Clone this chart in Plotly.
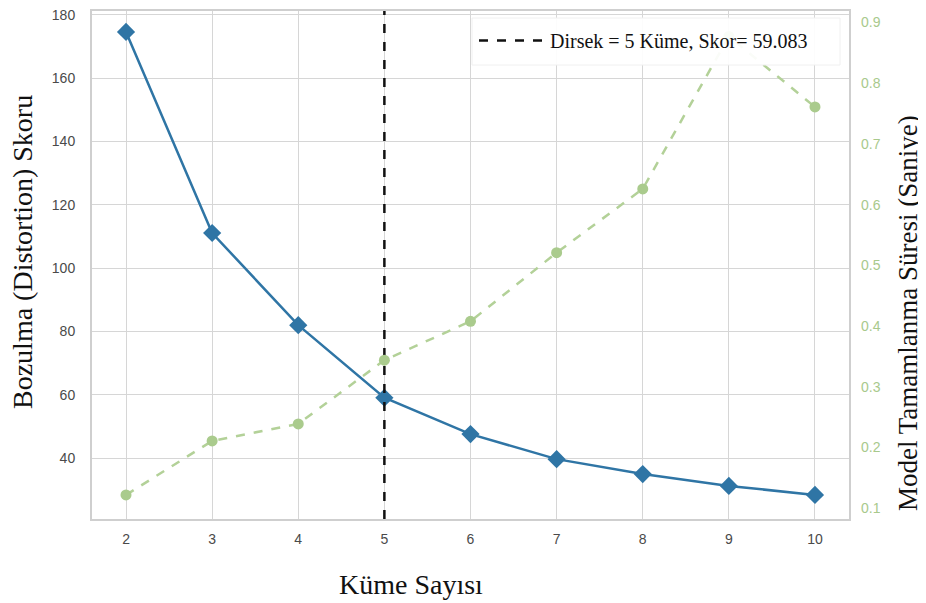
import plotly.graph_objects as go

k_values = [2, 3, 4, 5, 6, 7, 8, 9, 10]
distortion = [174.6, 111.1, 82.0, 59.083, 47.6, 39.7, 35.0, 31.25, 28.4]
fit_time = [0.122, 0.211, 0.239, 0.344, 0.408, 0.521, 0.626, 0.877, 0.761]
elbow_k = 5
elbow_score = 59.083
legend_label = "Dirsek = 5 Küme, Skor= 59.083"
x_title = "Küme Sayısı"
y_title = "Bozulma (Distortion) Skoru"
y2_title = "Model Tamamlanma Süresi (Saniye)"
y_range = [20.8, 181.2]
y2_range = [0.0824, 0.919]

blue = "#2f75a5"
green = "#b3d198"

# page body has an 8px margin: figure coordinates = screen - 8
W, H = 918, 595
L, R, T, B = 84, 841, 3, 511
pw, ph = R - L, B - T


def px(x):
    return (x - 8 - L) / pw


def py(y):
    return (B - (y - 8)) / ph


fig = go.Figure()
fig.add_trace(go.Scatter(
    x=k_values, y=fit_time, yaxis="y2", mode="lines+markers",
    line=dict(color=green, width=2.5, dash="dash"),
    marker=dict(symbol="circle", size=11, color="#aacb8d"),
    showlegend=False))
fig.add_trace(go.Scatter(
    x=k_values, y=distortion, mode="lines+markers",
    line=dict(color=blue, width=2.5),
    marker=dict(symbol="diamond", size=14, color=blue),
    showlegend=False))
fig.add_trace(go.Scatter(
    x=[elbow_k, elbow_k], y=y_range, mode="lines",
    line=dict(color="#111111", width=2.5, dash="dash"),
    name=legend_label, showlegend=True))

# legend box
fig.add_shape(type="rect", xref="paper", yref="paper",
              x0=px(472), x1=px(840), y0=py(65), y1=py(18),
              fillcolor="rgba(255,255,255,0.93)", line=dict(color="#f0f0f0", width=1),
              layer="above")

serif = "Liberation Serif"
tick_font = dict(family="Liberation Sans", size=14, color="#4a4a4a")
fig.update_layout(
    width=W, height=H,
    margin=dict(l=L, r=W - R, t=T, b=H - B, autoexpand=False),
    paper_bgcolor="white", plot_bgcolor="white",
    xaxis=dict(range=[1.605, 10.395], tickvals=k_values, ticktext=[str(k) for k in k_values],
               showgrid=True, gridcolor="#d6d6d6", gridwidth=1.3,
               zeroline=False, showline=True, linecolor="#cfcfcf", linewidth=2, mirror=True,
               ticks="", ticklabelstandoff=6, ticklabeloverflow="allow", tickfont=tick_font),
    yaxis=dict(range=y_range, tickvals=[40, 60, 80, 100, 120, 140, 160, 180],
               showgrid=True, gridcolor="#d6d6d6", gridwidth=1.3,
               zeroline=False, showline=True, linecolor="#cfcfcf", linewidth=2, mirror=True,
               ticks="", ticklabelstandoff=12, ticklabeloverflow="allow", tickfont=tick_font),
    yaxis2=dict(range=y2_range, overlaying="y", side="right",
                tickvals=[0.1, 0.2, 0.3, 0.4, 0.5, 0.6, 0.7, 0.8, 0.9],
                ticktext=["0.1", "0.2", "0.3", "0.4", "0.5", "0.6", "0.7", "0.8", "0.9"],
                showgrid=False, zeroline=False, showline=False, ticks="",
                ticklabelstandoff=11, ticklabeloverflow="allow",
                tickfont=dict(family="Liberation Sans", size=14, color="#a8c98c")),
    legend=dict(x=px(474), y=py(21), xanchor="left", yanchor="top",
                bgcolor="rgba(0,0,0,0)", borderwidth=0,
                font=dict(family=serif, size=20, color="#111111"),
                itemwidth=66),
    annotations=[
        dict(text=x_title, xref="paper", yref="paper", x=px(411), y=py(584),
             xanchor="center", yanchor="middle", showarrow=False,
             font=dict(family=serif, size=28, color="#111111")),
        dict(text=y_title, xref="paper", yref="paper", x=px(22), y=py(252),
             xanchor="center", yanchor="middle", showarrow=False, textangle=-90,
             font=dict(family=serif, size=28, color="#111111")),
        dict(text=y2_title, xref="paper", yref="paper", x=px(908), y=py(313),
             xanchor="center", yanchor="middle", showarrow=False, textangle=-90,
             font=dict(family=serif, size=27, color="#111111")),
    ],
)

fig.write_html("out.html")
